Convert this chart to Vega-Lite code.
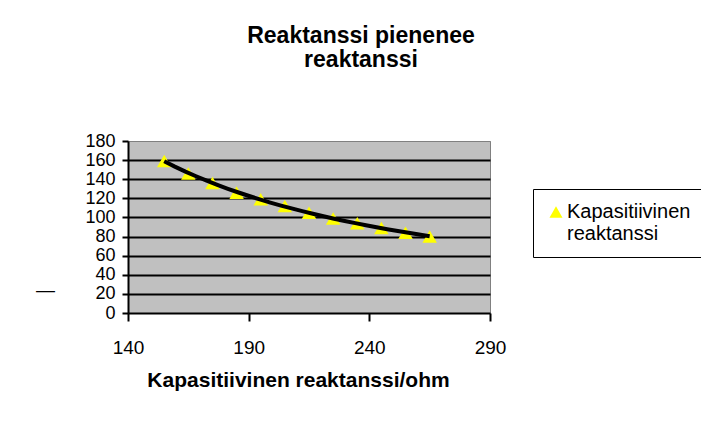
{
  "$schema": "https://vega.github.io/schema/vega-lite/v6.json",
  "autosize": {"type": "none"},
  "padding": {"left": 128, "top": 141, "right": 211, "bottom": 115},
  "width": 362,
  "height": 172,
  "background": "white",
  "config": {
    "font": "Liberation Sans",
    "view": {"fill": "#C0C0C0", "stroke": "#808080", "strokeWidth": 1}
  },
  "title": {
    "text": ["Reaktanssi pienenee", "reaktanssi"],
    "font": "Liberation Sans",
    "fontSize": 23,
    "fontWeight": "bold",
    "color": "black",
    "lineHeight": 24,
    "anchor": "middle",
    "offset": 60,
    "dx": 52
  },
  "data": {
    "values": [
      {"x": 155, "y": 159, "series": "Kapasitiivinen reaktanssi"},
      {"x": 165, "y": 146, "series": "Kapasitiivinen reaktanssi"},
      {"x": 175, "y": 136, "series": "Kapasitiivinen reaktanssi"},
      {"x": 185, "y": 126, "series": "Kapasitiivinen reaktanssi"},
      {"x": 195, "y": 119, "series": "Kapasitiivinen reaktanssi"},
      {"x": 205, "y": 112, "series": "Kapasitiivinen reaktanssi"},
      {"x": 215, "y": 105, "series": "Kapasitiivinen reaktanssi"},
      {"x": 225, "y": 99, "series": "Kapasitiivinen reaktanssi"},
      {"x": 235, "y": 94, "series": "Kapasitiivinen reaktanssi"},
      {"x": 245, "y": 89, "series": "Kapasitiivinen reaktanssi"},
      {"x": 255, "y": 84, "series": "Kapasitiivinen reaktanssi"},
      {"x": 265, "y": 80, "series": "Kapasitiivinen reaktanssi"}
    ]
  },
  "layer": [
    {
      "mark": {"type": "point", "filled": true, "opacity": 1, "size": 210},
      "encoding": {
        "x": {
          "field": "x", "type": "quantitative",
          "scale": {"domain": [140, 290], "nice": false, "zero": false},
          "axis": {
            "values": [140, 190, 240, 290],
            "tickCount": 10,
            "title": "Kapasitiivinen reaktanssi/ohm",
            "titleFont": "Liberation Sans",
            "titleFontSize": 21,
            "titleFontWeight": "bold",
            "titleColor": "black",
            "titlePadding": 12,
            "titleX": 170,
            "labelFont": "Liberation Sans",
            "labelFontSize": 19,
            "labelColor": "black",
            "labelPadding": 17,
            "labelFlush": false,
            "labelOverlap": false,
            "domainColor": "black",
            "domainWidth": 2,
            "tickColor": "black",
            "tickWidth": 2,
            "tickSize": 8,
            "grid": false
          }
        },
        "y": {
          "field": "y", "type": "quantitative",
          "scale": {"domain": [0, 180], "nice": false},
          "axis": {
            "values": [0, 20, 40, 60, 80, 100, 120, 140, 160, 180],
            "tickCount": 20,
            "title": "—",
            "titleAngle": 0,
            "titleX": -83,
            "titleY": 148,
            "titleAlign": "center",
            "titleBaseline": "middle",
            "titleFontWeight": "normal",
            "titleFontSize": 19,
            "titleColor": "black",
            "labelFont": "Liberation Sans",
            "labelFontSize": 18,
            "labelColor": "black",
            "labelPadding": 7,
            "labelFlush": false,
            "labelOverlap": false,
            "domainColor": "black",
            "domainWidth": 2,
            "tickColor": "black",
            "tickWidth": 2,
            "tickSize": 6,
            "grid": true,
            "gridColor": {"condition": {"test": "datum.value >= 180 || datum.value <= 0", "value": "#808080"}, "value": "black"},
            "gridWidth": {"condition": {"test": "datum.value >= 180 || datum.value <= 0", "value": 1}, "value": 2}
          }
        },
        "color": {
          "field": "series", "type": "nominal",
          "scale": {"range": ["#FFFF00"]},
          "legend": {
            "title": null,
            "orient": "none",
            "legendX": 405,
            "legendY": 48,
            "fillColor": "white",
            "strokeColor": "black",
            "padding": 13,
            "symbolType": "triangle-up",
            "symbolSize": 170,
            "symbolOpacity": 1,
            "symbolStrokeWidth": 0,
            "labelFont": "Liberation Sans",
            "labelFontSize": 20,
            "labelColor": "black",
            "labelLimit": 300,
            "labelOffset": 1,
            "labelBaseline": "middle",
            "labelExpr": "['Kapasitiivinen', 'reaktanssi']",
            "encoding": {"legend": {"update": {"strokeWidth": {"value": 2}}}}
          }
        },
        "shape": {
          "field": "series", "type": "nominal",
          "scale": {"range": ["triangle-up"]},
          "legend": null
        }
      }
    },
    {
      "transform": [{"regression": "y", "on": "x", "method": "pow"}],
      "mark": {"type": "line", "color": "black", "strokeWidth": 4},
      "encoding": {
        "x": {"field": "x", "type": "quantitative"},
        "y": {"field": "y", "type": "quantitative"}
      }
    }
  ]
}
